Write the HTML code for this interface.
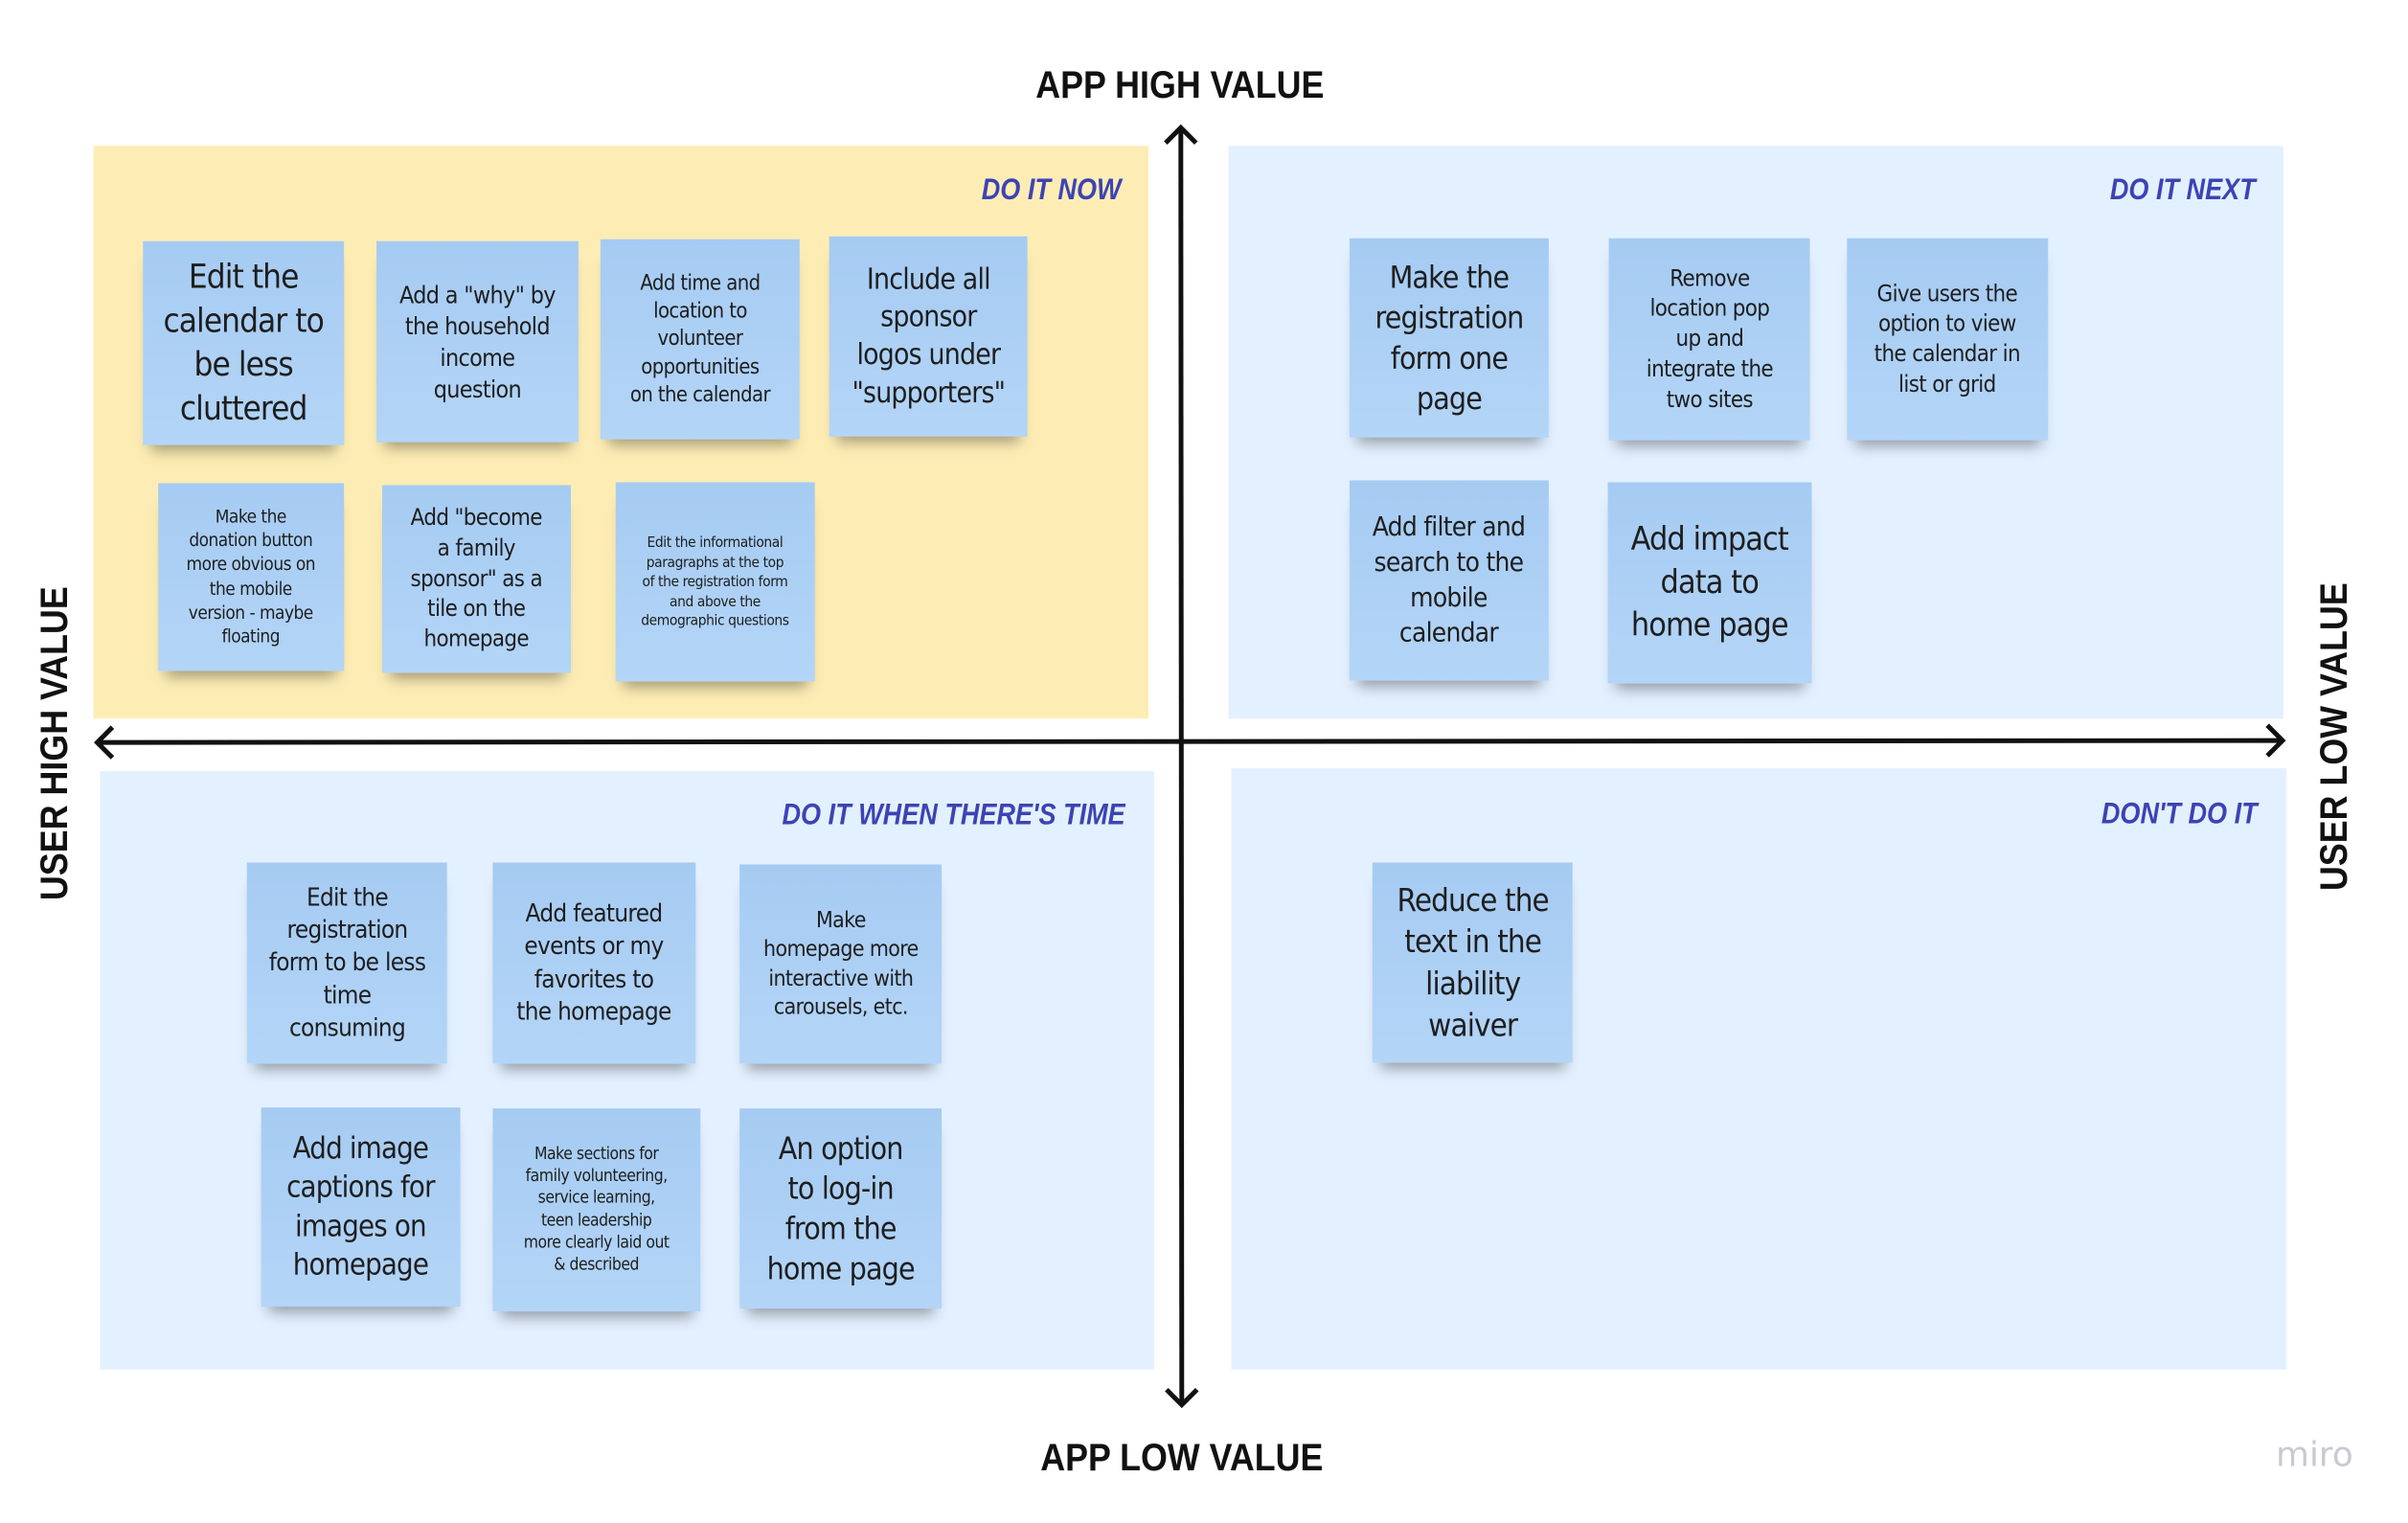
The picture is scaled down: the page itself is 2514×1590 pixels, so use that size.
<!DOCTYPE html>
<html><head><meta charset="utf-8"><style>
body{margin:0;width:2514px;height:1590px;background:#fff;position:relative;overflow:hidden;font-family:"Liberation Sans",sans-serif}
#w{position:absolute;left:0;top:0;width:2514px;height:1590px;transform:scale(0.995);transform-origin:0 0}
.q{position:absolute}
.t{position:absolute;font-weight:bold;font-style:italic;color:#3d43b3;font-size:32px;white-space:nowrap;transform:scaleX(.85);transform-origin:right center}
.s{position:absolute;background:linear-gradient(#a6cbf2,#b3d5f7);display:flex;align-items:center;justify-content:center;text-align:center;color:#1e1e1e;line-height:1.32;box-shadow:0 14px 14px -8px rgba(0,0,0,.35);font-family:"DejaVu Sans","Liberation Sans",sans-serif;letter-spacing:-0.03em}
.s span{transform:scaleX(.9);display:block}
.ax{position:absolute;font-weight:bold;font-size:40px;color:#111;white-space:nowrap;transform:translate(-50%,-50%) scaleX(.9)}
</style></head><body><div id="w">
<div class="q" style="left:98px;top:153px;width:1107px;height:601px;background:#fdedb5"></div>
<div class="q" style="left:1289px;top:153px;width:1107px;height:601px;background:#e3f0ff"></div>
<div class="q" style="left:105px;top:809px;width:1106px;height:628px;background:#e3f0ff"></div>
<div class="q" style="left:1292px;top:806px;width:1107px;height:631px;background:#e3f0ff"></div>

<svg width="2514" height="1590" style="position:absolute;left:0;top:0">
<g stroke="#111" stroke-width="5" fill="none">
<line x1="1239" y1="134" x2="1240" y2="1474"/>
<polyline points="1223,150 1239,134 1255,150"/>
<polyline points="1224,1458 1240,1474 1256,1458"/>
<line x1="102" y1="779" x2="2395" y2="777"/>
<polyline points="118,763 102,779 118,795"/>
<polyline points="2379,761 2395,777 2379,793"/>
</g></svg>

<div class="ax" style="left:1238px;top:90px">APP HIGH VALUE</div>
<div class="ax" style="left:1240px;top:1530px">APP LOW VALUE</div>
<div class="ax" style="left:58px;top:780px;transform:translate(-50%,-50%) rotate(-90deg) scaleX(.9)">USER HIGH VALUE</div>
<div class="ax" style="left:2450px;top:773px;transform:translate(-50%,-50%) rotate(-90deg) scaleX(.9)">USER LOW VALUE</div>

<div class="t" style="right:1338px;top:180px">DO IT NOW</div>
<div class="t" style="right:147px;top:180px">DO IT NEXT</div>
<div class="t" style="right:1333px;top:836px">DO IT WHEN THERE'S TIME</div>
<div class="t" style="right:146px;top:835px">DON'T DO IT</div>
<div style="position:absolute;left:2388px;top:1506px;font-size:36px;color:#c9c9d3;font-family:'DejaVu Sans',sans-serif">miro</div>

<div class="s" style="left:150px;top:253px;width:211px;height:214px;font-size:35px"><span>Edit the<br>calendar to<br>be less<br>cluttered</span></div>
<div class="s" style="left:395px;top:253px;width:212px;height:211px;font-size:25px"><span>Add a "why" by<br>the household<br>income<br>question</span></div>
<div class="s" style="left:630px;top:251px;width:209px;height:210px;font-size:22px"><span>Add time and<br>location to<br>volunteer<br>opportunities<br>on the calendar</span></div>
<div class="s" style="left:870px;top:248px;width:208px;height:210px;font-size:30px"><span>Include all<br>sponsor<br>logos under<br>"supporters"</span></div>
<div class="s" style="left:166px;top:507px;width:195px;height:197px;font-size:19px"><span>Make the<br>donation button<br>more obvious on<br>the mobile<br>version - maybe<br>floating</span></div>
<div class="s" style="left:401px;top:509px;width:198px;height:197px;font-size:24px"><span>Add "become<br>a family<br>sponsor" as a<br>tile on the<br>homepage</span></div>
<div class="s" style="left:646px;top:506px;width:209px;height:209px;font-size:15.5px"><span>Edit the informational<br>paragraphs at the top<br>of the registration form<br>and above the<br>demographic questions</span></div>

<div class="s" style="left:1416px;top:250px;width:209px;height:209px;font-size:32px"><span>Make the<br>registration<br>form one<br>page</span></div>
<div class="s" style="left:1688px;top:250px;width:211px;height:212px;font-size:24px"><span>Remove<br>location pop<br>up and<br>integrate the<br>two sites</span></div>
<div class="s" style="left:1938px;top:250px;width:211px;height:212px;font-size:24px"><span>Give users the<br>option to view<br>the calendar in<br>list or grid</span></div>
<div class="s" style="left:1416px;top:504px;width:209px;height:210px;font-size:28px"><span>Add filter and<br>search to the<br>mobile<br>calendar</span></div>
<div class="s" style="left:1687px;top:506px;width:214px;height:211px;font-size:34px"><span>Add impact<br>data to<br>home page</span></div>

<div class="s" style="left:259px;top:905px;width:210px;height:211px;font-size:26px"><span>Edit the<br>registration<br>form to be less<br>time<br>consuming</span></div>
<div class="s" style="left:517px;top:905px;width:213px;height:211px;font-size:26px"><span>Add featured<br>events or my<br>favorites to<br>the homepage</span></div>
<div class="s" style="left:776px;top:907px;width:212px;height:209px;font-size:23px"><span>Make<br>homepage more<br>interactive with<br>carousels, etc.</span></div>
<div class="s" style="left:274px;top:1162px;width:209px;height:209px;font-size:31px"><span>Add image<br>captions for<br>images on<br>homepage</span></div>
<div class="s" style="left:517px;top:1163px;width:218px;height:213px;font-size:17.5px"><span>Make sections for<br>family volunteering,<br>service learning,<br>teen leadership<br>more clearly laid out<br>&amp; described</span></div>
<div class="s" style="left:776px;top:1163px;width:212px;height:210px;font-size:32px"><span>An option<br>to log-in<br>from the<br>home page</span></div>

<div class="s" style="left:1440px;top:905px;width:210px;height:210px;font-size:33px"><span>Reduce the<br>text in the<br>liability<br>waiver</span></div>
</div></body></html>
